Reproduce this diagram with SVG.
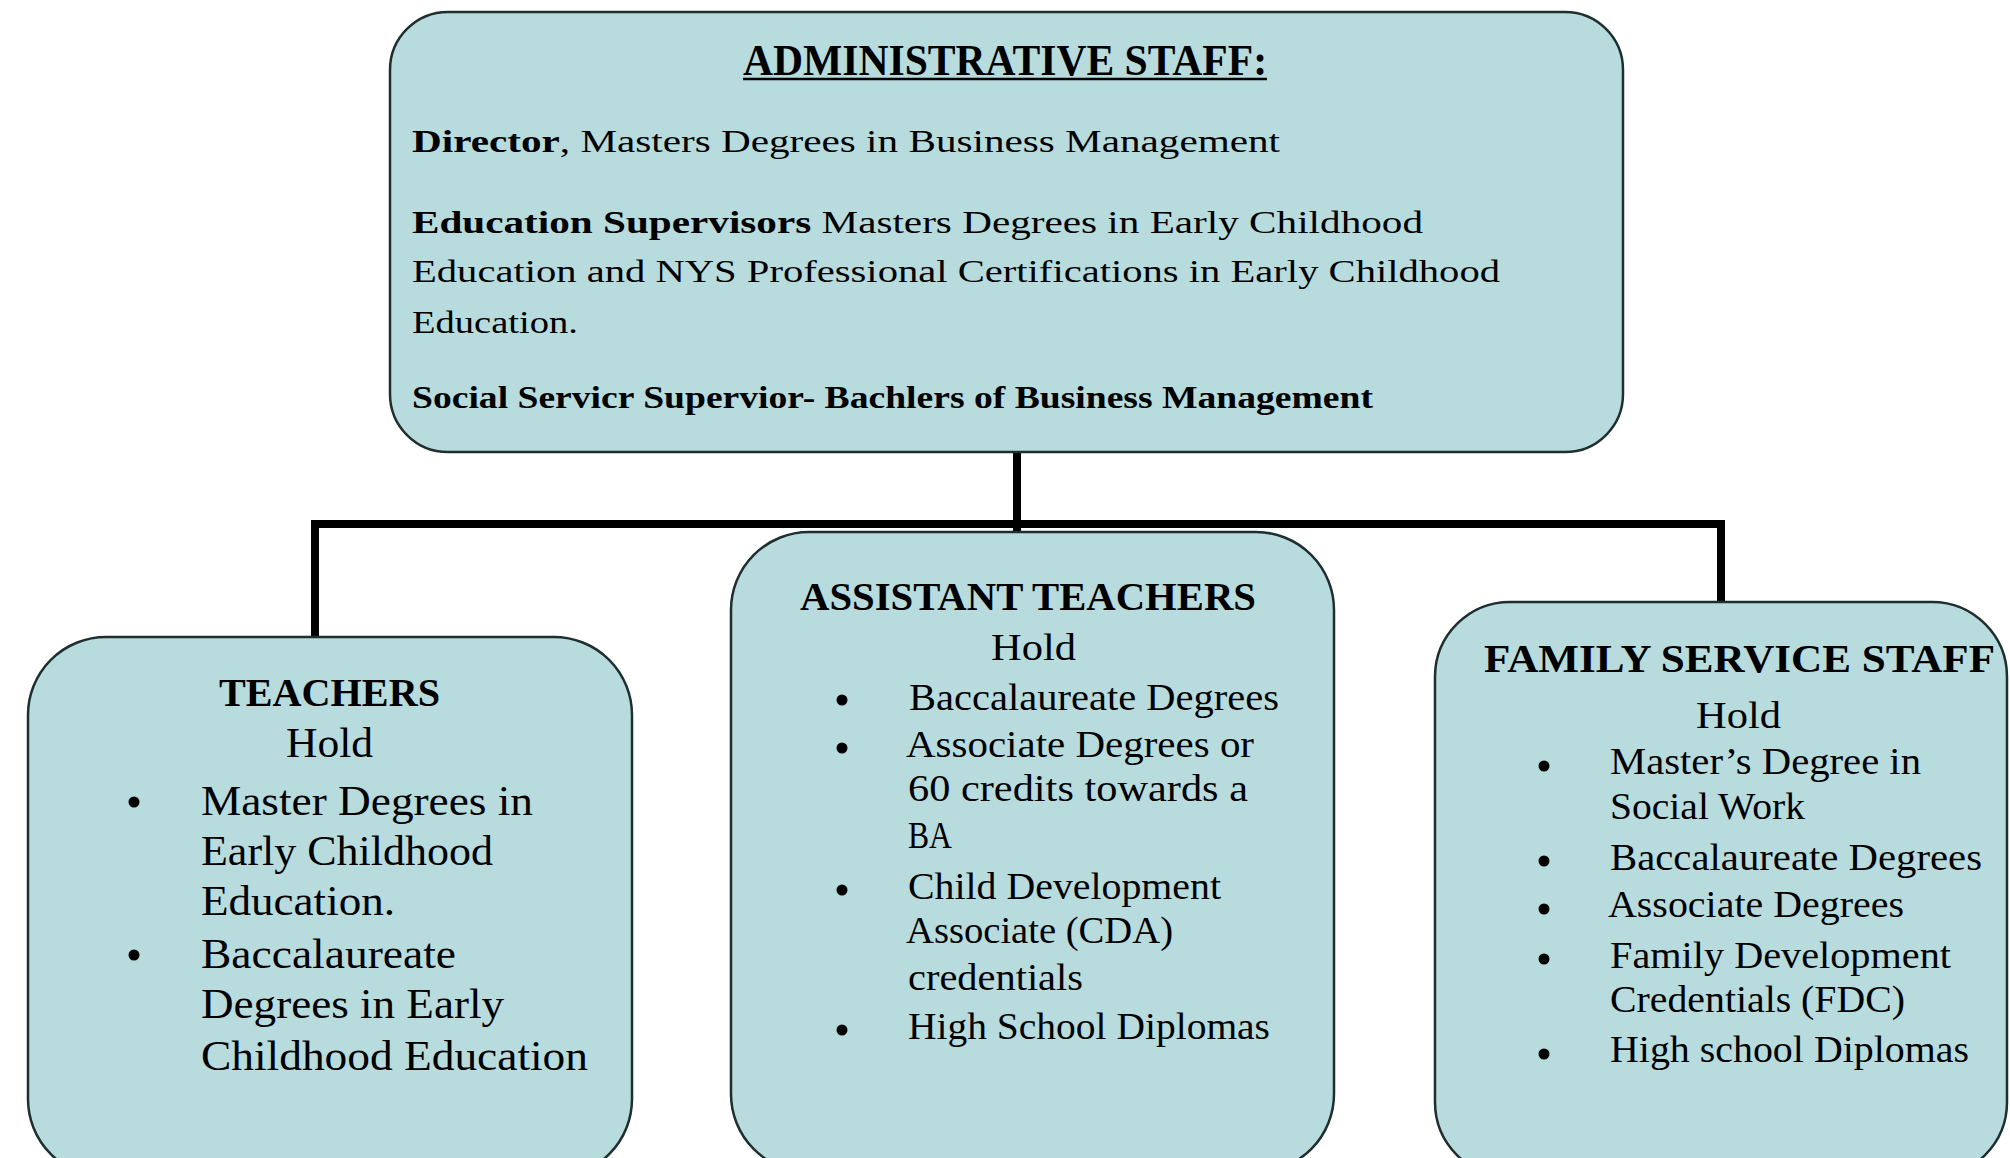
<svg xmlns="http://www.w3.org/2000/svg" width="2010" height="1158" viewBox="0 0 2010 1158">
  <style>
    .box { fill: #b8dbde; stroke: #1f2e2e; stroke-width: 2.5; }
    .conn { fill: none; stroke: #000; stroke-width: 8; stroke-linejoin: miter; }
    text { font-family: "Liberation Serif", "Times New Roman", serif; fill: #000; }
    .b { font-weight: bold; }
    .title { font-size: 44px; font-weight: bold; }
    .adm { font-size: 31px; }
    .h { font-size: 40px; font-weight: bold; }
    .t1 { font-size: 43px; }
    .t2 { font-size: 37px; }
    .bul { fill: #000; }
  </style>
  <rect width="2010" height="1158" fill="#ffffff"/>

  <g id="connectors">
    <path class="conn" d="M1017 452 V532"/>
    <path class="conn" d="M315 637 V524 H1721 V602"/>
  </g>

  <g id="admin">
    <rect class="box" x="390" y="12" width="1233" height="440" rx="58" ry="58"/>
    <text class="title" x="743" y="75" textLength="524" lengthAdjust="spacingAndGlyphs">ADMINISTRATIVE STAFF:</text>
    <line x1="743" y1="79" x2="1267" y2="79" stroke="#000" stroke-width="2.5"/>
    <text class="adm" x="412" y="152" textLength="868" lengthAdjust="spacingAndGlyphs"><tspan class="b">Director</tspan>, Masters Degrees in Business Management</text>
    <text class="adm" x="412" y="233" textLength="1011" lengthAdjust="spacingAndGlyphs"><tspan class="b">Education Supervisors</tspan> Masters Degrees in Early Childhood</text>
    <text class="adm" x="412" y="282" textLength="1088" lengthAdjust="spacingAndGlyphs">Education  and NYS Professional  Certifications  in Early Childhood</text>
    <text class="adm" x="412" y="333" textLength="166" lengthAdjust="spacingAndGlyphs">Education.</text>
    <text class="adm b" x="412" y="408" font-size="29" textLength="961" lengthAdjust="spacingAndGlyphs">Social Servicr Supervior- Bachlers of Business Management</text>
  </g>

  <g id="teachers">
    <rect class="box" x="28" y="637" width="604" height="540" rx="78" ry="78"/>
    <text class="h" x="219" y="706" textLength="221" lengthAdjust="spacingAndGlyphs">TEACHERS</text>
    <text class="t1" x="286" y="757" textLength="87" lengthAdjust="spacingAndGlyphs">Hold</text>
    <circle class="bul" cx="134" cy="802" r="5.5"/>
    <text class="t1" x="201" y="815" textLength="332" lengthAdjust="spacingAndGlyphs">Master Degrees in</text>
    <text class="t1" x="201" y="865" textLength="292" lengthAdjust="spacingAndGlyphs">Early Childhood</text>
    <text class="t1" x="201" y="915" textLength="194" lengthAdjust="spacingAndGlyphs">Education.</text>
    <circle class="bul" cx="134" cy="955" r="5.5"/>
    <text class="t1" x="201" y="968" textLength="255" lengthAdjust="spacingAndGlyphs">Baccalaureate</text>
    <text class="t1" x="201" y="1018" textLength="303" lengthAdjust="spacingAndGlyphs">Degrees in Early</text>
    <text class="t1" x="201" y="1070" textLength="387" lengthAdjust="spacingAndGlyphs">Childhood Education</text>
  </g>

  <g id="assistant">
    <rect class="box" x="731" y="532" width="603" height="640" rx="78" ry="78"/>
    <text class="h" x="800" y="610" textLength="456" lengthAdjust="spacingAndGlyphs">ASSISTANT TEACHERS</text>
    <text class="t2" x="991" y="660" textLength="85" lengthAdjust="spacingAndGlyphs">Hold</text>
    <circle class="bul" cx="842" cy="700" r="5.5"/>
    <text class="t2" x="909" y="710" textLength="370" lengthAdjust="spacingAndGlyphs">Baccalaureate  Degrees</text>
    <circle class="bul" cx="842" cy="748" r="5.5"/>
    <text class="t2" x="906" y="757" textLength="348" lengthAdjust="spacingAndGlyphs">Associate Degrees  or</text>
    <text class="t2" x="908" y="801" textLength="340" lengthAdjust="spacingAndGlyphs">60 credits towards  a</text>
    <text class="t2" x="908" y="848" textLength="44" lengthAdjust="spacingAndGlyphs">BA</text>
    <circle class="bul" cx="842" cy="890" r="5.5"/>
    <text class="t2" x="908" y="899" textLength="313" lengthAdjust="spacingAndGlyphs">Child Development</text>
    <text class="t2" x="906" y="943" textLength="267" lengthAdjust="spacingAndGlyphs">Associate (CDA)</text>
    <text class="t2" x="908" y="990" textLength="175" lengthAdjust="spacingAndGlyphs">credentials</text>
    <circle class="bul" cx="842" cy="1030" r="5.5"/>
    <text class="t2" x="908" y="1039" textLength="362" lengthAdjust="spacingAndGlyphs">High School Diplomas</text>
  </g>

  <g id="family">
    <rect class="box" x="1435" y="602" width="572" height="575" rx="75" ry="75"/>
    <text class="h" x="1484" y="672" textLength="511" lengthAdjust="spacingAndGlyphs">FAMILY SERVICE STAFF</text>
    <text class="t2" x="1696" y="728" textLength="85" lengthAdjust="spacingAndGlyphs">Hold</text>
    <circle class="bul" cx="1544" cy="766" r="5.5"/>
    <text class="t2" x="1610" y="774" textLength="311" lengthAdjust="spacingAndGlyphs">Master’s Degree  in</text>
    <text class="t2" x="1610" y="819" textLength="195" lengthAdjust="spacingAndGlyphs">Social Work</text>
    <circle class="bul" cx="1544" cy="861" r="5.5"/>
    <text class="t2" x="1610" y="870" textLength="372" lengthAdjust="spacingAndGlyphs">Baccalaureate  Degrees</text>
    <circle class="bul" cx="1544" cy="909" r="5.5"/>
    <text class="t2" x="1608" y="917" textLength="296" lengthAdjust="spacingAndGlyphs">Associate Degrees</text>
    <circle class="bul" cx="1544" cy="959" r="5.5"/>
    <text class="t2" x="1610" y="968" textLength="341" lengthAdjust="spacingAndGlyphs">Family Development</text>
    <text class="t2" x="1610" y="1012" textLength="295" lengthAdjust="spacingAndGlyphs">Credentials  (FDC)</text>
    <circle class="bul" cx="1544" cy="1054" r="5.5"/>
    <text class="t2" x="1610" y="1062" textLength="359" lengthAdjust="spacingAndGlyphs">High school Diplomas</text>
  </g>
</svg>
